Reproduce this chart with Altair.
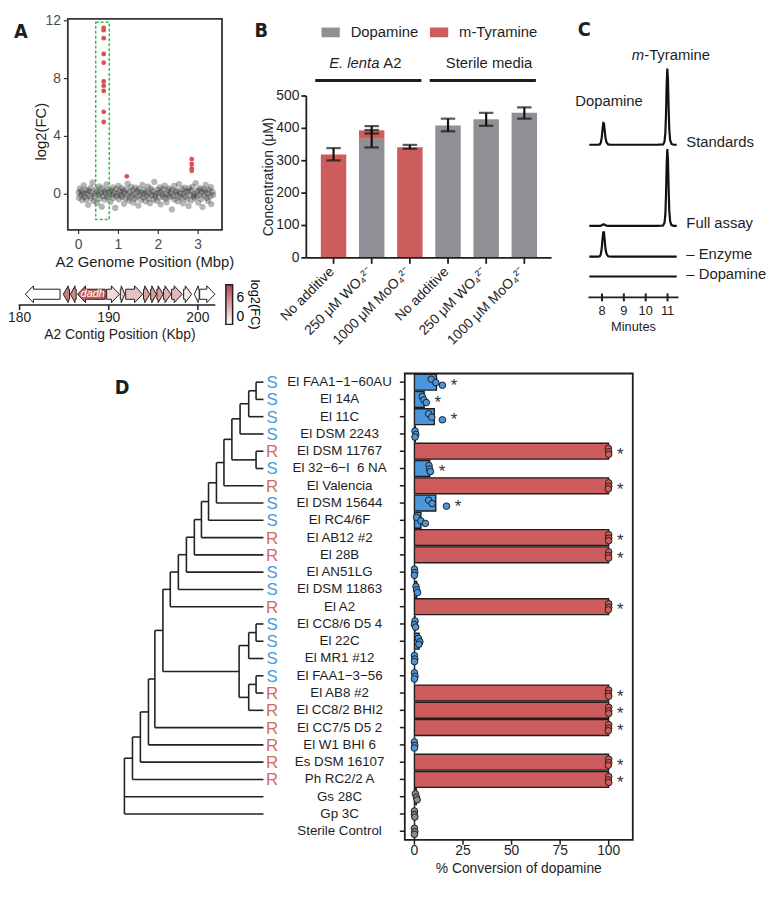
import json
import altair as alt
import pandas as pd

S = 0.975
W, H = 756, 875


def P(v):
    return round(v * S, 2)


FONT = "Liberation Sans"
LFONT = "Liberation Sans Narrow, DejaVu Sans Condensed, Liberation Sans"
INK = "#1e1e1e"
RED = "#cd5c5c"
GREY = "#8f9095"
BLUE = "#4b97dd"
LETTER_BLUE = "#4a9ad9"
LETTER_RED = "#d06a6a"

# ---------------- Panel A data ----------------
genome_pos = [
    0.00, 0.01, 0.03, 0.06, 0.07, 0.09, 0.12, 0.13, 0.15, 0.18,
    0.19, 0.21, 0.24, 0.25, 0.27, 0.30, 0.31, 0.33, 0.35, 0.38,
    0.40, 0.41, 0.44, 0.46, 0.47, 0.50, 0.52, 0.53, 0.56, 0.58,
    0.59, 0.61, 0.64, 0.66, 0.67, 0.70, 0.72, 0.73, 0.76, 0.78,
    0.80, 0.81, 0.84, 0.86, 0.87, 0.90, 0.92, 0.94, 0.95, 0.98,
    1.00, 1.01, 1.04, 1.06, 1.08, 1.09, 1.12, 1.14, 1.15, 1.18,
    1.20, 1.22, 1.23, 1.26, 1.28, 1.29, 1.32, 1.34, 1.36, 1.37,
    1.40, 1.42, 1.43, 1.46, 1.48, 1.50, 1.51, 1.54, 1.56, 1.57,
    1.60, 1.62, 1.64, 1.65, 1.68, 1.70, 1.71, 1.74, 1.76, 1.78,
    1.79, 1.82, 1.84, 1.85, 1.88, 1.90, 1.92, 1.93, 1.96, 1.98,
    1.99, 2.02, 2.04, 2.06, 2.07, 2.10, 2.12, 2.13, 2.16, 2.18,
    2.20, 2.21, 2.24, 2.26, 2.27, 2.30, 2.32, 2.34, 2.35, 2.38,
    2.40, 2.41, 2.44, 2.46, 2.48, 2.49, 2.52, 2.54, 2.55, 2.58,
    2.60, 2.62, 2.63, 2.66, 2.68, 2.69, 2.72, 2.74, 2.76, 2.77,
    2.80, 2.82, 2.83, 2.86, 2.88, 2.90, 2.91, 2.94, 2.96, 2.97,
    3.00, 3.02, 3.04, 3.05, 3.08, 3.10, 3.11, 3.14, 3.16, 3.18,
    3.19, 3.22, 3.24, 3.25, 3.28, 3.30, 3.32, 3.33, 3.36, 3.38,
]
genome_lfc = [
    0.12, -0.25, 0.38, -0.05, 0.21, -0.41, 0.05, 0.62, -0.18, 0.30,
    -0.33, 0.08, -0.72, 0.26, -0.10, 0.44, -0.28, 0.15, 0.81, -0.47,
    0.02, -0.15, 0.35, -0.60, 0.18, -0.02, 0.55, -0.31, 0.10, -0.86,
    0.40, -0.12, 0.22, -0.38, 0.07, 0.68, -0.22, 0.31, -0.08, 0.16,
    -0.52, 0.27, -0.03, 0.48, -0.26, 0.11, -0.95, 0.36, -0.14, 0.04,
    0.58, -0.35, 0.19, -0.07, 0.42, -0.19, 0.25, -0.66, 0.09, -0.29,
    0.33, -0.01, 0.74, -0.44, 0.14, -0.23, 0.51, -0.09, 0.28, -0.57,
    0.06, -0.32, 0.45, -0.16, 0.20, -0.78, 0.37, -0.04, 0.13, -0.39,
    0.65, -0.21, 0.03, 0.29, -0.49, 0.17, -0.11, 0.53, -0.27, 0.08,
    -0.62, 0.39, -0.06, 0.23, -0.36, 0.85, -0.13, 0.01, -0.45, 0.32,
    0.10, -0.24, 0.47, -0.70, 0.15, -0.02, 0.34, -0.17, 0.60, -0.30,
    0.05, -0.55, 0.26, -0.08, 0.41, -0.20, 0.12, -1.05, 0.30, -0.12,
    0.57, -0.37, 0.18, -0.04, 0.24, -0.48, 0.70, -0.15, 0.09, -0.28,
    0.36, -0.63, 0.02, 0.46, -0.19, 0.14, -0.34, 0.21, -0.81, 0.40,
    -0.07, 0.27, -0.42, 0.52, -0.10, 0.06, -0.25, 0.77, -0.16, 0.19,
    -0.58, 0.31, -0.03, 0.43, -0.33, 0.11, -0.88, 0.35, -0.09, 0.22,
    0.64, -0.26, 0.07, -0.46, 0.29, -0.14, 0.49, -0.68, 0.16, -0.05,
]
hit_pos = [0.63, 0.63, 0.63, 0.63, 0.63, 0.63, 0.63, 0.63, 0.63, 0.63, 1.21, 2.84, 2.84, 2.84, 2.84]
hit_lfc = [11.5, 11.35, 10.8, 9.7, 9.1, 7.8, 7.5, 7.15, 5.7, 5.0, 1.24, 2.43, 2.09, 1.78, 1.62]
box_pos = [0.43, 0.77]
box_lfc = [-1.75, 11.9]
A_x_domain = [-0.27, 3.6]
A_y_domain = [-2.47, 12.13]
A_x_ticks = [0, 1, 2, 3]
A_y_ticks = [0, 4, 8, 12]

# gene neighbourhood (Kbp)
gene_start = [180.65, 184.9, 185.7, 186.5, 189.76, 191.3, 191.9, 193.9, 194.7, 195.4, 196.15, 197.05, 198.4, 199.6, 200.2]
gene_end = [184.54, 185.6, 186.35, 189.6, 191.2, 191.8, 193.8, 194.6, 195.35, 196.1, 196.97, 198.24, 199.3, 200.15, 201.9]
gene_strand = [-1, -1, -1, -1, 1, 1, 1, 1, 1, 1, 1, 1, 1, -1, 1]
gene_lfc = [0, 6.5, 6.0, 7.8, 1.8, 2.5, 3.0, 4.8, 4.8, 4.8, 3.8, 3.5, 1.3, 0, 0]
gene_name = ["", "", "", "dadh", "", "", "", "", "", "", "", "", "", "", ""]
contig_domain = [179.9, 201.95]
contig_ticks = [180, 190, 200]
lfc_legend_domain = [0, 9]
lfc_legend_ticks = [0, 6]

# ---------------- Panel B data ----------------
B_labels = ["No additive", "250 μM WO₄²⁻", "1000 μM MoO₄²⁻",
            "No additive", "250 μM WO₄²⁻", "1000 μM MoO₄²⁻"]
B_dopamine = [0, 368, 0, 409, 428, 448]
B_tyramine = [319, 26, 342, 0, 0, 0]
B_err_cond = [0, 1, 1, 2, 3, 4, 5]
B_err_lo = [301, 341, 384, 337, 391, 408, 430]
B_err_hi = [339, 395, 407, 349, 430, 448, 465]
B_group_first = [0, 3]
B_group_last = [2, 5]
B_group_mid = [1, 4]
B_group_italic = ["E. lenta", ""]
B_group_plain = ["A2", "Sterile media"]
B_y_ticks = [0, 100, 200, 300, 400, 500]

# ---------------- Panel C data ----------------
chrom_time = [7.42, 7.80, 7.90, 7.95, 7.99, 8.03, 8.06, 8.09, 8.12, 8.16, 8.21, 8.28, 8.40,
              10.50, 10.80, 10.86, 10.90, 10.93, 10.96, 10.99, 11.02, 11.05, 11.08, 11.12, 11.18, 11.28, 11.42]
chrom_standards = [0, 0, 0.5, 3, 10, 22, 28.5, 28, 20, 9, 3, 0.5, 0,
                   0, 0.5, 4, 15, 40, 80, 100, 85, 48, 20, 6, 1, 0, 0]
chrom_full = [0, 0, 0, 0.3, 0.8, 1.5, 2, 2, 1.5, 0.8, 0.3, 0, 0,
              0, 0.5, 4, 15, 41, 81, 101, 86, 49, 20, 6, 1, 0, 0]
chrom_no_enzyme = [0, 0, 0.5, 3.5, 12, 25, 32, 32, 23, 10, 3.5, 0.5, 0,
                   0, 0, 0, 0, 0, 0, 0, 0, 0, 0, 0, 0, 0, 0]
chrom_no_dopamine = [0] * 27
trace_names = ["Standards", "Full assay", "– Enzyme", "– Dopamine"]
trace_offsets = [173, 66.5, 26, 0]
C_domain = [7.38, 11.5]
C_ticks = [8, 9, 10, 11]

# ---------------- Panel D data ----------------
strains = ["El FAA1−1−60AU", "El 14A", "El 11C", "El DSM 2243", "El DSM 11767", "El 32−6−I \u00a06 NA",
           "El Valencia", "El DSM 15644", "El RC4/6F", "El AB12 #2", "El 28B", "El AN51LG",
           "El DSM 11863", "El A2", "El CC8/6 D5 4", "El 22C", "El MR1 #12", "El FAA1−3−56",
           "El AB8 #2", "El CC8/2 BHI2", "El CC7/5 D5 2", "El W1 BHI 6", "Es DSM 16107",
           "Ph RC2/2 A", "Gs 28C", "Gp 3C", "Sterile Control"]
tip_letter = ["S", "S", "S", "S", "R", "S", "R", "S", "S", "R", "R", "S", "S", "R",
              "S", "S", "S", "S", "R", "R", "R", "R", "R", "R"]
conv_group = ["low", "low", "low", "low", "high", "low", "high", "low", "low", "high", "high", "low",
              "low", "high", "low", "low", "low", "low", "high", "high", "high", "low", "high",
              "high", "ctrl", "ctrl", "ctrl"]
rep1 = [8.6, 4.0, 7.3, 0.3, 99.8, 7.5, 100, 7.3, 1.1, 100, 100, 0.0, 0.8, 100, 0.3, 2.0, 0.0, 0.0,
        100, 100, 100, 0.0, 100, 100, 0.5, 0.0, 0.0]
rep2 = [11.0, 4.9, 8.9, 0.7, 100, 7.8, 100, 9.1, 3.3, 100, 99.8, 0.2, 1.1, 100, 0.0, 2.8, 0.2, 0.3,
        99.8, 100, 100, 0.2, 100, 99.8, 1.0, 0.0, 0.2]
rep3 = [14.4, 6.1, 14.4, 0.3, 100, 8.2, 99.8, 16.5, 5.6, 100, 100, 0.0, 1.6, 99.8, 0.6, 2.3, 0.0, 0.0,
        100, 100, 99.8, 0.0, 99.8, 100, 1.4, 0.2, 0.0]
rep_jitter = [-0.17, 0.03, 0.18]
star_rows = [1, 2, 3, 5, 6, 7, 8, 10, 11, 14, 19, 20, 21, 23, 24]
D_x_domain = [-4.96, 112.4]
D_x_ticks = [0, 25, 50, 75, 100]

tree_nodes = [
    ("N1", 0.947, ["t1", "t2"]),
    ("N2", 0.894, ["N1", "t3"]),
    ("N3", 0.832, ["N2", "t4"]),
    ("N4", 0.947, ["t5", "t6"]),
    ("N5", 0.773, ["N3", "N4"]),
    ("N6", 0.716, ["N5", "t7"]),
    ("N7", 0.662, ["N6", "t8"]),
    ("N8", 0.605, ["N7", "t9"]),
    ("N9", 0.554, ["N8", "t10"]),
    ("N10", 0.503, ["N9", "t11"]),
    ("N11", 0.446, ["N10", "t12"]),
    ("N12", 0.388, ["N11", "t13"]),
    ("N13", 0.330, ["N12", "t14"]),
    ("B1", 0.947, ["t15", "t16"]),
    ("B2", 0.894, ["B1", "t17"]),
    ("B4", 0.947, ["t18", "t19"]),
    ("B5", 0.894, ["B4", "t20"]),
    ("B3", 0.825, ["B2", "B5"]),
    ("N14", 0.277, ["N13", "B3"]),
    ("N15", 0.219, ["N14", "t21"]),
    ("N16", 0.173, ["N15", "t22"]),
    ("N17", 0.115, ["N16", "t23"]),
    ("N18", 0.058, ["N17", "t24"]),
    ("root", 0.0, ["N18", "t25", "t26"]),
]

# ======================================================================
one_row = pd.DataFrame({"k": [0]})


def note(text, x, y, size=14, weight="normal", style="normal", align="center",
         font=FONT, color=INK, angle=0):
    return alt.Chart(one_row).mark_text(
        text=text, fontSize=size, fontWeight=weight, fontStyle=style, align=align,
        baseline="middle", font=font, color=color, angle=angle
    ).encode(x=alt.value(x), y=alt.value(y))


def x_ticks(vals, scale, y0, y1, typ="Q", color=INK, width=1.5):
    return alt.Chart(pd.DataFrame({"v": vals})).mark_rule(color=color, strokeWidth=width).encode(
        x=alt.X("v:" + typ, scale=scale, axis=None), y=alt.value(y0), y2=alt.value(y1))


def y_ticks(vals, scale, x0, x1, color=INK, width=1.5):
    return alt.Chart(pd.DataFrame({"v": vals})).mark_rule(color=color, strokeWidth=width).encode(
        y=alt.Y("v:Q", scale=scale, axis=None), x=alt.value(x0), x2=alt.value(x1))


def x_labels(vals, texts, scale, y, size, typ="Q", color=INK, **kw):
    return alt.Chart(pd.DataFrame({"v": vals, "t": texts})).mark_text(
        fontSize=size, color=color, **kw).encode(
        x=alt.X("v:" + typ, scale=scale, axis=None), y=alt.value(y), text="t:N")


def y_labels(vals, texts, scale, x, size, color=INK, align="right", **kw):
    return alt.Chart(pd.DataFrame({"v": vals, "t": texts})).mark_text(
        fontSize=size, color=color, align=align, baseline="middle", **kw).encode(
        y=alt.Y("v:Q", scale=scale, axis=None), x=alt.value(x), text="t:N")


# ---------------- Panel A: scatter ----------------
xA = alt.Scale(domain=A_x_domain, range=[P(58), P(218)], nice=False, zero=False)
yA = alt.Scale(domain=A_y_domain, range=[P(225), P(6)], nice=False, zero=False)
dfA = pd.DataFrame({"pos": genome_pos, "lfc": genome_lfc})
dfHit = pd.DataFrame({"pos": hit_pos, "lfc": hit_lfc})
A_LAB = "#4d4d4d"

A_grey = alt.Chart(dfA).mark_circle(size=40, color="#222222", opacity=0.33).encode(
    x=alt.X("pos:Q", scale=xA, axis=None), y=alt.Y("lfc:Q", scale=yA, axis=None))
A_red = alt.Chart(dfHit).mark_circle(size=24, color="#d9534f", opacity=1).encode(
    x=alt.X("pos:Q", scale=xA, axis=None), y=alt.Y("lfc:Q", scale=yA, axis=None))
A_box = alt.Chart(one_row).mark_rect(fillOpacity=0, stroke="#2bbf4b", strokeWidth=1.5,
                                     strokeDash=[3, 2]).encode(
    x=alt.XDatum(box_pos[0], scale=xA, axis=None), x2=alt.X2Datum(box_pos[1]),
    y=alt.YDatum(box_lfc[0], scale=yA, axis=None), y2=alt.Y2Datum(box_lfc[1]))
A_frame = alt.Chart(one_row).mark_rect(fillOpacity=0, stroke="#333333", strokeWidth=1.8).encode(
    x=alt.XDatum(A_x_domain[0], scale=xA, axis=None), x2=alt.X2Datum(A_x_domain[1]),
    y=alt.YDatum(A_y_domain[0], scale=yA, axis=None), y2=alt.Y2Datum(A_y_domain[1]))
A_xt = x_ticks(A_x_ticks, xA, P(225), P(225) + 4, color="#333333", width=1.2)
A_yt = y_ticks(A_y_ticks, yA, P(58) - 4, P(58), color="#333333", width=1.2)
A_xl = x_labels(A_x_ticks, [str(v) for v in A_x_ticks], xA, P(241), 14, color=A_LAB,
                align="center", baseline="middle")
A_yl = y_labels(A_y_ticks, [str(v) for v in A_y_ticks], yA, P(58) - 7, 14, color=A_LAB)
panelA = alt.layer(A_grey, A_red, A_box, A_frame, A_xt, A_yt, A_xl, A_yl)

# ---------------- Panel A: gene arrows (closed outlines) ----------------
BODY = 0.6
poly = []
for i, (s, e, d, v) in enumerate(zip(gene_start, gene_end, gene_strand, gene_lfc)):
    head = min(0.9, 0.8 * (e - s))
    if d > 0:
        b = e - head
        pts = [(s, -BODY), (b, -BODY), (b, -1), (e, 0), (b, 1), (b, BODY), (s, BODY), (s, -BODY)]
    else:
        b = s + head
        pts = [(e, -BODY), (b, -BODY), (b, -1), (s, 0), (b, 1), (b, BODY), (e, BODY), (e, -BODY)]
    for k, (px, py) in enumerate(pts):
        poly.append({"gene": i, "seq": k, "kbp": px, "yy": py, "lfc": v})
dfPoly = pd.DataFrame(poly)
dfGenes = pd.DataFrame({"start": gene_start, "end": gene_end, "name": gene_name})

xG = alt.Scale(domain=contig_domain, range=[P(7), P(211)], nice=False, zero=False)
yG = alt.Scale(domain=[-1, 1], range=[P(300.5), P(283)], nice=False, zero=False)
G_arrows = alt.Chart(dfPoly).mark_line(stroke=INK, strokeWidth=1, interpolate="linear",
                                       strokeJoin="miter").encode(
    x=alt.X("kbp:Q", scale=xG, axis=None),
    y=alt.Y("yy:Q", scale=yG, axis=None),
    fill=alt.Fill("lfc:Q", scale=alt.Scale(domain=lfc_legend_domain, range=["#ffffff", "#b84848"],
                                           interpolate="rgb"),
                  legend=alt.Legend(orient="none", legendX=P(222), legendY=P(282), direction="vertical",
                                    gradientLength=P(41), gradientThickness=P(7),
                                    values=lfc_legend_ticks, title="log2(FC)", titleOrient="right",
                                    titleFontSize=13, titleFontWeight="normal", titleAnchor="middle",
                                    labelFontSize=14, labelOffset=4, gradientStrokeColor=INK,
                                    gradientStrokeWidth=1.5, titlePadding=3)),
    detail="gene:N", order=alt.Order("seq:Q"))
G_text = alt.Chart(dfGenes).transform_filter("datum.name != ''").transform_calculate(
    mid="(datum.start + datum.end) / 2 + 0.15").mark_text(
    fontStyle="italic", color="white", fontSize=11, baseline="middle").encode(
    x=alt.X("mid:Q", scale=xG, axis=None), y=alt.YDatum(0, scale=yG, axis=None), text="name:N")
G_dom = alt.Chart(one_row).mark_rule(color=INK, strokeWidth=1.5).encode(
    x=alt.XDatum(contig_domain[0], scale=xG, axis=None), x2=alt.X2Datum(contig_domain[1]),
    y=alt.value(P(303)))
G_xt = x_ticks(contig_ticks, xG, P(303), P(303) + 5)
G_xl = x_labels(contig_ticks, [str(v) for v in contig_ticks], xG, P(316.5), 14,
                align="center", baseline="middle")
panelG = alt.layer(G_arrows, G_text, G_dom, G_xt, G_xl)

# ---------------- Panel B ----------------
xB = alt.Scale(domain=list(range(6)), range=[P(305.5), P(560)], paddingInner=0.333, paddingOuter=0.38)
yB = alt.Scale(domain=[0, 500], range=[P(254), P(86)], nice=False, zero=False)
rowsB = []
for i in range(6):
    rowsB.append({"cond": i, "comp": "Dopamine", "value": B_dopamine[i], "ord": 0})
    rowsB.append({"cond": i, "comp": "m-Tyramine", "value": B_tyramine[i], "ord": 1})
dfB = pd.DataFrame(rowsB)
dfErr = pd.DataFrame({"cond": B_err_cond, "lo": B_err_lo, "hi": B_err_hi})
dfGrp = pd.DataFrame({"first": B_group_first, "last": B_group_last, "mid": B_group_mid,
                      "ital": B_group_italic, "plain": B_group_plain})

B_bars = alt.Chart(dfB).mark_bar().encode(
    x=alt.X("cond:O", scale=xB, axis=None),
    y=alt.Y("value:Q", stack="zero", scale=yB, axis=None),
    color=alt.Color("comp:N", scale=alt.Scale(domain=["Dopamine", "m-Tyramine"], range=[GREY, RED]),
                    legend=alt.Legend(orient="none", legendX=P(321), legendY=P(10), direction="horizontal",
                                      title=None, symbolType="M-1,-0.53H1V0.53H-1Z",
                                      symbolSize=round((19 * S) ** 2), symbolStrokeWidth=0,
                                      symbolOpacity=1, labelFontSize=15, labelOffset=P(11),
                                      columnPadding=P(11), labelColor=INK)),
    order=alt.Order("ord:Q"))
B_err = alt.Chart(dfErr).mark_rule(strokeWidth=2.2, color="#111111").encode(
    x=alt.X("cond:O", scale=xB, axis=None), y=alt.Y("lo:Q", scale=yB, axis=None), y2="hi:Q")
B_caps = alt.Chart(dfErr).transform_fold(["lo", "hi"], as_=["end", "val"]).mark_tick(
    thickness=2.2, size=P(15), color="#111111").encode(
    x=alt.X("cond:O", scale=xB, axis=None), y=alt.Y("val:Q", scale=yB, axis=None))
B_lines = alt.Chart(dfGrp).mark_rule(strokeWidth=3, color=INK, xOffset=-P(19), x2Offset=P(12)).encode(
    x=alt.X("first:O", scale=xB, axis=None), x2="last", y=alt.value(P(70)))
B_ital = alt.Chart(dfGrp).transform_filter("datum.ital != ''").mark_text(
    fontSize=15, fontStyle="italic", align="right", baseline="middle", dx=P(8), color=INK).encode(
    x=alt.X("mid:O", scale=xB, axis=None), y=alt.value(P(52)), text="ital:N")
B_plain1 = alt.Chart(dfGrp).transform_filter("datum.ital != ''").mark_text(
    fontSize=15, align="left", baseline="middle", dx=P(12), color=INK).encode(
    x=alt.X("mid:O", scale=xB, axis=None), y=alt.value(P(52)), text="plain:N")
B_plain2 = alt.Chart(dfGrp).transform_filter("datum.ital == ''").mark_text(
    fontSize=15, align="center", baseline="middle", dx=P(3), color=INK).encode(
    x=alt.X("mid:O", scale=xB, axis=None), y=alt.value(P(52)), text="plain:N")
B_ydom = alt.Chart(one_row).mark_rule(color=INK, strokeWidth=1.8).encode(
    y=alt.YDatum(0, scale=yB, axis=None), y2=alt.Y2Datum(500), x=alt.value(P(305.5)))
B_xdom = alt.Chart(one_row).mark_rule(color=INK, strokeWidth=1.8).encode(
    x=alt.value(P(305.5)), x2=alt.value(P(560)), y=alt.YDatum(0, scale=yB, axis=None))
B_yt = y_ticks(B_y_ticks, yB, P(305.5) - 5, P(305.5), width=1.8)
B_yl = y_labels(B_y_ticks, [str(v) for v in B_y_ticks], yB, P(305.5) - 7, 14)
B_xt = x_ticks(list(range(6)), xB, P(254), P(254) + 6, typ="O", width=1.8)
B_xl = x_labels(list(range(6)), B_labels, xB, P(265), 14, typ="O",
                align="right", baseline="middle", angle=315, dx=-2)
panelB = alt.layer(B_bars, B_err, B_caps, B_lines, B_ital, B_plain1, B_plain2,
                   B_ydom, B_xdom, B_yt, B_yl, B_xt, B_xl)

# ---------------- Panel C ----------------
xC = alt.Scale(domain=C_domain, range=[P(598.3), P(691.7)], nice=False, zero=False)
yC = alt.Scale(domain=[0, 300], range=[P(273.3), P(273.3 - 300 * 0.79)], nice=False, zero=False)
signals = [chrom_standards, chrom_full, chrom_no_enzyme, chrom_no_dopamine]
rowsC = []
for name, off, sig in zip(trace_names, trace_offsets, signals):
    for t, v in zip(chrom_time, sig):
        rowsC.append({"trace": name, "t": t, "yv": off + v})
dfC = pd.DataFrame(rowsC)
dfCLab = pd.DataFrame({"trace": trace_names, "off": trace_offsets, "tend": [chrom_time[-1]] * 4})
i_dop = chrom_standards[:13].index(max(chrom_standards[:13]))
i_tyr = chrom_standards.index(max(chrom_standards))
dfPeaks = pd.DataFrame({"t": [chrom_time[i_dop], chrom_time[i_tyr]],
                        "yv": [trace_offsets[0] + chrom_standards[i_dop],
                               trace_offsets[0] + chrom_standards[i_tyr]]})

C_lines = alt.Chart(dfC).mark_line(strokeWidth=2.2, color="#111111").encode(
    x=alt.X("t:Q", scale=xC, axis=None), y=alt.Y("yv:Q", scale=yC, axis=None), detail="trace:N")
C_labels = alt.Chart(dfCLab).mark_text(fontSize=15, align="left", baseline="middle",
                                       dx=P(10), dy=-P(2.5), color=INK).encode(
    x=alt.X("tend:Q", scale=xC, axis=None), y=alt.Y("off:Q", scale=yC, axis=None), text="trace:N")
C_dop = alt.Chart(dfPeaks.iloc[[0]]).mark_text(text="Dopamine", fontSize=15, align="center",
                                               baseline="middle", dx=P(6), dy=-P(23), color=INK).encode(
    x=alt.X("t:Q", scale=xC, axis=None), y=alt.Y("yv:Q", scale=yC, axis=None))
C_m = alt.Chart(dfPeaks.iloc[[1]]).mark_text(text="m", fontSize=15, fontStyle="italic", align="right",
                                             baseline="middle", dx=-P(24), dy=-P(14.5), color=INK).encode(
    x=alt.X("t:Q", scale=xC, axis=None), y=alt.Y("yv:Q", scale=yC, axis=None))
C_tyr = alt.Chart(dfPeaks.iloc[[1]]).mark_text(text="-Tyramine", fontSize=15, align="left",
                                               baseline="middle", dx=-P(24), dy=-P(14.5), color=INK).encode(
    x=alt.X("t:Q", scale=xC, axis=None), y=alt.Y("yv:Q", scale=yC, axis=None))
C_dom = alt.Chart(one_row).mark_rule(color=INK, strokeWidth=2).encode(
    x=alt.XDatum(C_domain[0], scale=xC, axis=None), x2=alt.X2Datum(C_domain[1]), y=alt.value(P(295)))
C_xt = x_ticks(C_ticks, xC, P(295) - 4, P(295) + 4, width=2)
C_xl = x_labels(C_ticks, [str(v) for v in C_ticks], xC, P(309), 13, align="center", baseline="middle")
panelC = alt.layer(C_lines, C_labels, C_dop, C_m, C_tyr, C_dom, C_xt, C_xl)

# ---------------- Panel D: tree ----------------
yD = alt.Scale(domain=[0.5, 27.5], range=[P(374), P(858)], nice=False, zero=False)
xT = alt.Scale(domain=[0, 1], range=[P(116.7), P(261)], nice=False, zero=False)
pos = {f"t{i}": (1.0, float(i)) for i in range(1, 27)}
segs = []
for name, depth, kids in tree_nodes:
    ys = [pos[k][1] for k in kids]
    pos[name] = (depth, sum(ys) / len(ys))
    segs.append({"x": depth, "x2": depth, "y": min(ys), "y2": max(ys)})
    for k in kids:
        segs.append({"x": depth, "x2": pos[k][0], "y": pos[k][1], "y2": pos[k][1]})
dfSeg = pd.DataFrame(segs)
dfTip = pd.DataFrame({"row": list(range(1, len(tip_letter) + 1)), "letter": tip_letter, "tip": 1.0})

T_rules = alt.Chart(dfSeg).mark_rule(strokeWidth=1.6, color="#222222").encode(
    x=alt.X("x:Q", scale=xT, axis=None), x2="x2:Q",
    y=alt.Y("y:Q", scale=yD, axis=None), y2="y2:Q")
T_letters = alt.Chart(dfTip).mark_text(fontSize=17, align="center", baseline="middle",
                                       dx=P(9), dy=1).encode(
    x=alt.X("tip:Q", scale=xT, axis=None), y=alt.Y("row:Q", scale=yD, axis=None), text="letter:N",
    color=alt.Color("letter:N", scale=alt.Scale(domain=["S", "R"], range=[LETTER_BLUE, LETTER_RED]),
                    legend=None))
panelT = alt.layer(T_rules, T_letters)

# ---------------- Panel D: conversion bars ----------------
xD = alt.Scale(domain=D_x_domain, range=[P(407.7), P(644.3)], nice=False, zero=False)
fillD = alt.Scale(domain=["low", "high", "ctrl"], range=[BLUE, RED, "#8a8a8a"])
rowsD = []
for r in range(27):
    for j, reps in enumerate([rep1, rep2, rep3]):
        rowsD.append({"row": r + 1, "rep": j, "value": reps[r], "grp": conv_group[r],
                      "yy": r + 1 + rep_jitter[j]})
dfD = pd.DataFrame(rowsD)
dfStar = pd.DataFrame({"row": star_rows,
                       "xmax": [max(rep1[r - 1], rep2[r - 1], rep3[r - 1]) for r in star_rows]})
rows_all = list(range(1, 28))

D_frame = alt.Chart(one_row).mark_rect(fillOpacity=0, stroke=INK, strokeWidth=1.8).encode(
    x=alt.XDatum(D_x_domain[0], scale=xD, axis=None), x2=alt.X2Datum(D_x_domain[1]),
    y=alt.YDatum(0.5, scale=yD, axis=None), y2=alt.Y2Datum(27.5))
D_bars = alt.Chart(dfD).transform_aggregate(
    mean="mean(value)", groupby=["row", "grp"]).transform_calculate(
    y0="datum.row - 0.46", y1="datum.row + 0.46").mark_rect(stroke=INK, strokeWidth=1.4).encode(
    x=alt.X("mean:Q", scale=xD, axis=None), x2=alt.X2Datum(0),
    y=alt.Y("y0:Q", scale=yD, axis=None), y2="y1:Q",
    fill=alt.Fill("grp:N", scale=fillD, legend=None))
D_dots = alt.Chart(dfD).mark_circle(size=44, stroke=INK, strokeWidth=1, opacity=1).encode(
    x=alt.X("value:Q", scale=xD, axis=None), y=alt.Y("yy:Q", scale=yD, axis=None),
    fill=alt.Fill("grp:N", scale=fillD, legend=None))
D_star = alt.Chart(dfStar).mark_text(text="*", fontSize=17, dx=P(12), dy=P(4), color="#333333").encode(
    x=alt.X("xmax:Q", scale=xD, axis=None), y=alt.Y("row:Q", scale=yD, axis=None))
D_xt = x_ticks(D_x_ticks, xD, P(858), P(858) + 5)
D_xl = x_labels(D_x_ticks, [str(v) for v in D_x_ticks], xD, P(870), 14, align="center", baseline="middle")
D_yt = y_ticks(rows_all, yD, P(407.7) - 5, P(407.7))
D_yl = y_labels(rows_all, strains, yD, P(340), 13.5, align="center")
panelD = alt.layer(D_bars, D_dots, D_frame, D_star, D_xt, D_xl, D_yt, D_yl)

# ---------------- titles & panel letters ----------------
texts = [
    note("log2(FC)", P(30), P(123), size=15, angle=270),
    note("A2 Genome Position (Mbp)", P(138), P(258), size=15),
    note("A2 Contig Position (Kbp)", P(112), P(334), size=14),
    note("Concentration (μM)", P(267), P(170), size=14, angle=270),
    note("Minutes", P(645), P(326), size=13),
    note("% Conversion of dopamine", P(526), P(888), size=14),
    note("A", P(9.3), P(19.5), size=20, weight="bold", font=LFONT),
    note("B", P(258.7), P(18.5), size=20, weight="bold", font=LFONT),
    note("C", P(594), P(17.5), size=20, weight="bold", font=LFONT),
    note("D", P(114.3), P(389), size=20, weight="bold", font=LFONT),
]

chart = alt.layer(panelA, panelG, panelB, panelC, panelT, panelD, *texts).resolve_scale(
    x="independent", y="independent", color="independent", fill="independent"
).resolve_legend(
    color="independent", fill="independent"
).properties(width=W, height=H, padding=0).configure_view(stroke=None).configure_legend(
    labelFont=FONT, titleFont=FONT, padding=0).configure_text(font=FONT)

chart.save("out.html", embed_options={"renderer": "svg", "actions": False})
